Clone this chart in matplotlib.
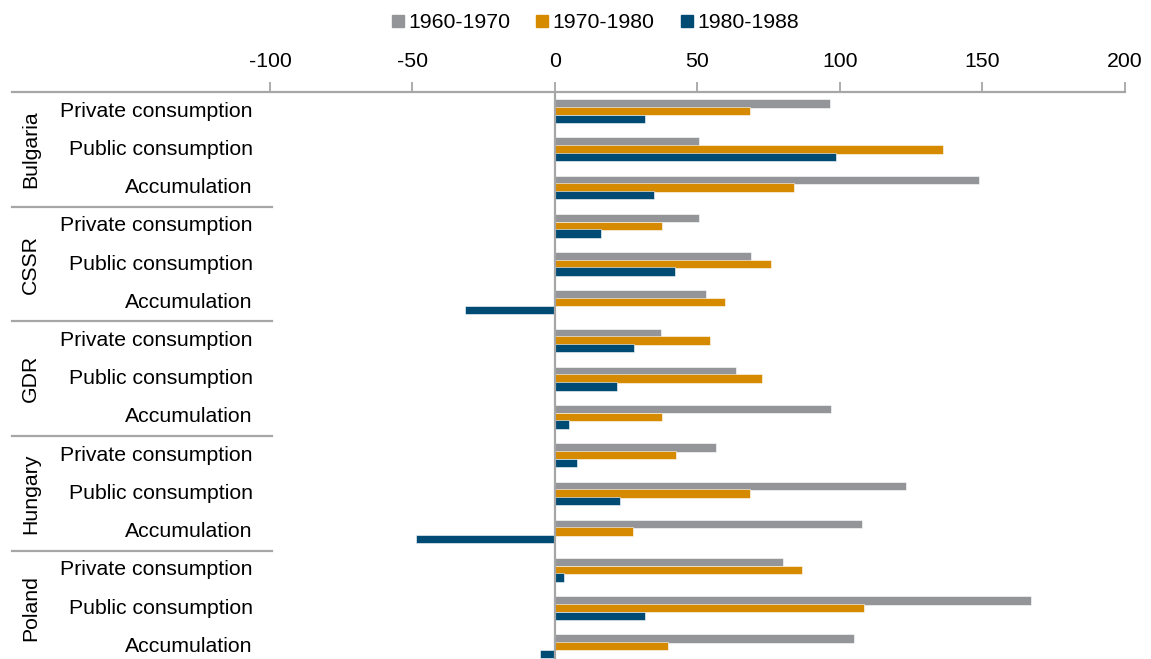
import matplotlib
matplotlib.use("Agg")
import matplotlib.pyplot as plt
from matplotlib.lines import Line2D
import numpy as np

plt.rcParams['font.family'] = ['Liberation Sans', 'DejaVu Sans']

countries = ["Bulgaria", "CSSR", "GDR", "Hungary", "Poland"]
items = ["Private consumption", "Public consumption", "Accumulation"]
series_names = ["1960-1970", "1970-1980", "1980-1988"]

s1960 = [96.5, 50.4, 148.8, 50.6, 68.9, 52.9, 37.1, 63.5, 96.9, 56.4, 123.2, 107.9, 80.0, 166.9, 105.0]
s1970 = [68.6, 136.3, 83.9, 37.4, 75.9, 59.5, 54.4, 72.7, 37.4, 42.5, 68.3, 27.4, 86.5, 108.6, 39.7]
s1980 = [31.6, 98.5, 34.9, 16.0, 42.1, -31.7, 27.8, 21.8, 4.9, 7.7, 22.9, -48.9, 3.1, 31.5, -5.3]

colors = ["#939598", "#D68A00", "#004B73"]
xticks = [-100, -50, 0, 50, 100, 150, 200]

W, H = 1151, 659
fig = plt.figure(figsize=(W / 100, H / 100), dpi=100)
ax = fig.add_axes([12 / W, 1 - 665.4 / H, (1125 - 12) / W, (665.4 - 92) / H])

n = len(countries) * len(items)
y = np.arange(n)
bh = 0.22
offs = [-0.2, 0.0, 0.2]
for vals, c, o in zip([s1960, s1970, s1980], colors, offs):
    ax.barh(y + o, vals, height=bh, color=c, edgecolor='white', linewidth=0.4)

ax.set_xlim(-190.5, 200)
ax.set_ylim(n - 0.5, -0.5)

for s in ['left', 'right', 'bottom']:
    ax.spines[s].set_visible(False)
ax.spines['top'].set_color('#A6A6A6')
ax.spines['top'].set_linewidth(1.6)
ax.xaxis.tick_top()
ax.set_xticks(xticks)
ax.set_xticklabels([str(t) for t in xticks], fontsize=15.3)
ax.tick_params(axis='x', direction='out', length=7, width=1.3, color='#A6A6A6', pad=8)
ax.set_yticks([])

ax.axvline(0, color='#A6A6A6', lw=1.6, zorder=5)

# category labels
for i in range(n):
    ax.text(-106, i, items[i % 3], ha='right', va='center', fontsize=15.3)
for g, cn in enumerate(countries):
    ax.text(-184, g * 3 + 1, cn, rotation=90, ha='center', va='center', fontsize=15.3)
for g in range(1, len(countries)):
    ax.plot([-190.5, -99.3], [g * 3 - 0.5, g * 3 - 0.5], color='#A6A6A6', lw=1.6, clip_on=False)

handles = [Line2D([0], [0], marker='s', linestyle='none', markersize=9, color=c) for c in colors]
fig.legend(handles, series_names, loc='center', bbox_to_anchor=(594 / W, 1 - 23 / H), ncol=3,
           frameon=False, fontsize=15.3, handlelength=0.8, handletextpad=0.1, columnspacing=1.1)

fig.savefig("out.png", dpi=100)
